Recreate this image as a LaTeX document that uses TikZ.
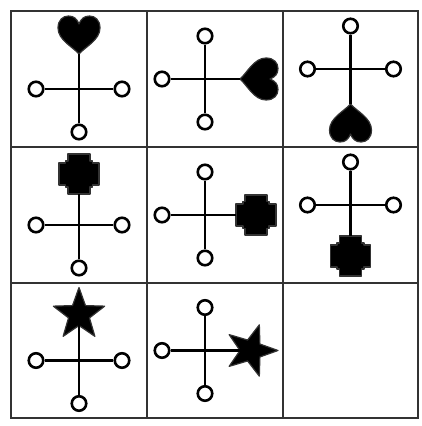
\documentclass[tikz,border=0pt]{standalone}
\usepackage{tikz}

% three rings and the arms of one cross; (-n) is set by each figure
\newcommand{\ringcross}{%
  \node[ring] (-w) at (-43,0) {};
  \node[ring] (-e) at (43,0) {};
  \node[ring] (-s) at (0,-43) {};
  \draw[arm] (-w) -- (-e);
  \draw[arm] (-s) -- (-n);
}

\begin{document}
\begin{tikzpicture}[
  x=1pt, y=1pt,
  grid/.style={draw=black!80, line width=2pt},
  ring/.style={circle, draw, fill=white, line width=2.6pt,
               minimum size=14.5pt, inner sep=0pt},
  arm/.style={line width=2.4pt},
  sym/.style={fill=black, draw=black!80, line width=1.2pt, line join=round},
  heartfig/.pic={
    \begin{scope}[yshift=-10pt]
      \coordinate (-n) at (0,35);
      \filldraw[sym] (0,35) .. controls (-6,42) and (-21,49) .. (-21,61)
        .. controls (-21,69) and (-16,73) .. (-10.5,73)
        .. controls (-5,73) and (-2,70) .. (0,65)
        .. controls (2,70) and (5,73) .. (10.5,73)
        .. controls (16,73) and (21,69) .. (21,61)
        .. controls (21,49) and (6,42) .. (0,35) -- cycle;
      \ringcross
    \end{scope}
  },
  plusfig/.pic={
    \begin{scope}[yshift=-10pt]
      \coordinate (-n) at (0,31);
      \filldraw[sym] (-11,71) -- (11,71) -- (11,64) -- (13.5,64) -- (13.5,62)
        -- (20,62) -- (20,40) -- (13.5,40) -- (13.5,38) -- (11,38) -- (11,31)
        -- (-11,31) -- (-11,38) -- (-13.5,38) -- (-13.5,40) -- (-20,40)
        -- (-20,62) -- (-13.5,62) -- (-13.5,64) -- (-11,64) -- cycle;
      \ringcross
    \end{scope}
  },
  starfig/.pic={
    \begin{scope}[yshift=-10pt]
      \coordinate (-n) at (0,46);
      \filldraw[sym] (0,46) +(90:27) -- +(126:11) -- +(162:27) -- +(198:11)
        -- +(234:27) -- +(270:11) -- +(306:27) -- +(342:11) -- +(18:27)
        -- +(54:11) -- cycle;
      \ringcross
    \end{scope}
  }
]
  \useasboundingbox (0,0) rectangle (421,426);

  % the 3x3 frame
  \draw[grid] (11,8) rectangle (418,415);
  \foreach \t in {147,283} {
    \draw[grid] (\t,8) -- (\t,415);
    \draw[grid] (11,426-\t) -- (418,426-\t);
  }

  % row 1: hearts
  \pic[rotate=0]   (h1) at (79,347)    {heartfig};
  \pic[rotate=-90] (h2) at (215,347)   {heartfig};
  \pic[rotate=180] (h3) at (350.5,347) {heartfig};

  % row 2: stepped crosses
  \pic[rotate=0]   (p1) at (79,211)    {plusfig};
  \pic[rotate=-90] (p2) at (215,211)   {plusfig};
  \pic[rotate=180] (p3) at (350.5,211) {plusfig};

  % row 3: stars, last cell left empty
  \pic[rotate=0]   (s1) at (79,75.5)   {starfig};
  \pic[rotate=-90] (s2) at (215,75.5)  {starfig};
\end{tikzpicture}
\end{document}
